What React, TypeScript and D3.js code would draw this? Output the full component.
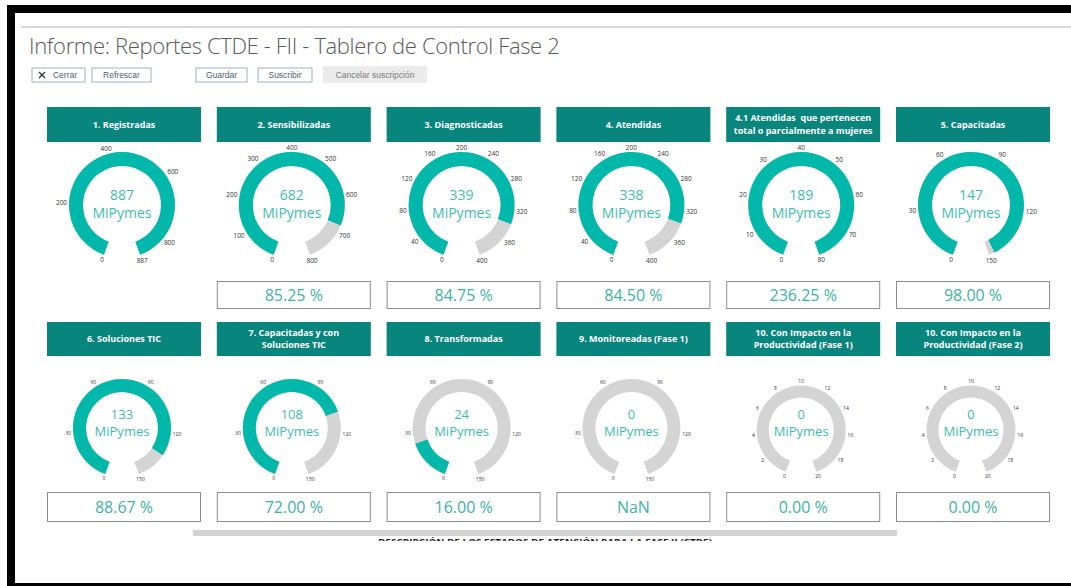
import React, { useEffect, useRef } from 'react';
import * as d3 from 'd3';

// gauge cards, left to right, top row then bottom row
const titles = [
    ['1. Registradas'],
    ['2. Sensibilizadas'],
    ['3. Diagnosticadas'],
    ['4. Atendidas'],
    ['4.1 Atendidas  que pertenecen', 'total o parcialmente a mujeres'],
    ['5. Capacitadas'],
    ['6. Soluciones TIC'],
    ['7. Capacitadas y con', 'Soluciones TIC'],
    ['8. Transformadas'],
    ['9. Monitoreadas (Fase 1)'],
    ['10. Con Impacto en la', 'Productividad (Fase 1)'],
    ['10. Con Impacto en la', 'Productividad (Fase 2)'],
];
const values = [887, 682, 339, 338, 189, 147, 133, 108, 24, 0, 0, 0];
const maxValues = [887, 800, 400, 400, 80, 150, 150, 150, 150, 150, 20, 20];
const gaugeTicks = [
    [0, 200, 400, 600, 800, 887],
    [0, 100, 200, 300, 400, 500, 600, 700, 800],
    [0, 40, 80, 120, 160, 200, 240, 280, 320, 360, 400],
    [0, 40, 80, 120, 160, 200, 240, 280, 320, 360, 400],
    [0, 10, 20, 30, 40, 50, 60, 70, 80],
    [0, 30, 60, 90, 120, 150],
    [0, 30, 60, 90, 120, 150],
    [0, 30, 60, 90, 120, 150],
    [0, 30, 60, 90, 120, 150],
    [0, 30, 60, 90, 120, 150],
    [0, 2, 4, 6, 8, 10, 12, 14, 16, 18, 20],
    [0, 2, 4, 6, 8, 10, 12, 14, 16, 18, 20],
];
const percentLabels = ['', '85.25 %', '84.75 %', '84.50 %', '236.25 %', '98.00 %',
    '88.67 %', '72.00 %', '16.00 %', 'NaN', '0.00 %', '0.00 %'];
const unitLabel = 'MiPymes';
const pageTitle = 'Informe: Reportes CTDE - FII - Tablero de Control Fase 2';
const buttonLabels = ['Cerrar', 'Refrescar', 'Guardar', 'Suscribir', 'Cancelar suscripción'];
const footerLabel = 'DESCRIPCIÓN DE LOS ESTADOS DE ATENCIÓN PARA LA FASE II (CTDE)';

const App = () => {
    const svgRef = useRef(null);

    useEffect(() => {
        const width = 1071;
        const height = 586;
        const teal = '#01b8aa';
        const headerFill = '#08857c';
        const grey = '#d4d4d4';
        const font = '"Open Sans", "Noto Sans", sans-serif';

        const svg = d3.select(svgRef.current);
        svg.selectAll('*').remove();
        svg.attr('width', width).attr('height', height);

        svg.append('rect').attr('width', width).attr('height', height).attr('fill', '#fff');

        // black frame of the screenshot
        svg.append('rect').attr('x', 7).attr('y', 5).attr('width', width - 7).attr('height', 8).attr('fill', '#000');
        svg.append('rect').attr('x', 7).attr('y', 5).attr('width', 8).attr('height', height - 5).attr('fill', '#000');
        svg.append('rect').attr('x', 7).attr('y', 583).attr('width', width - 7).attr('height', 3).attr('fill', '#000');
        svg.append('line')
            .attr('x1', 21).attr('x2', width).attr('y1', 27).attr('y2', 27)
            .attr('stroke', '#c6cbd1').attr('stroke-width', 1.5);

        //====== title + buttons
        svg.append('text')
            .attr('x', 29).attr('y', 54)
            .attr('font-family', font).attr('font-weight', 300)
            .attr('font-size', 22).attr('letter-spacing', -0.35).attr('fill', '#5a5a5a')
            .text(pageTitle);

        const btnX = [32, 92, 196, 258, 323];
        const btnW = [53, 59, 51, 54, 104];
        buttonLabels.forEach((label, i) => {
            const isCancel = i === 4;
            const g = svg.append('g').attr('transform', `translate(${btnX[i]},${isCancel ? 66 : 68})`);
            g.append('rect')
                .attr('width', btnW[i]).attr('height', isCancel ? 17 : 14)
                .attr('fill', isCancel ? '#ebebeb' : '#fff')
                .attr('stroke', isCancel ? 'none' : '#9fb0c2');
            let tx = btnW[i] / 2;
            if (i === 0) {
                g.append('path').attr('d', 'M7,4L13,10M13,4L7,10')
                    .attr('stroke', '#333').attr('stroke-width', 1.3);
                tx = 33;
            }
            g.append('text')
                .attr('x', tx).attr('y', isCancel ? 9 : 7.5)
                .attr('dy', '0.35em')
                .attr('text-anchor', 'middle')
                .attr('font-family', '"Liberation Sans", Arial, sans-serif')
                .attr('font-size', 8.5)
                .attr('fill', isCancel ? '#7a7a7a' : '#4d5d73')
                .text(label);
        });

        //====== gauge cards
        const colX = d3.scaleLinear().domain([0, 5]).range([47, 896]);
        const cardW = 154;
        const rows = [
            { headerY: 107, headerH: 35, cy: 205, rOut: 53, thick: 14, tickSize: 6.5, valueDy: -10, unitDy: 8, valueSize: 14, boxY: 281, boxH: 27 },
            { headerY: 322, headerH: 34, cy: 428, rOut: 49, thick: 13, tickSize: 5, valueDy: -14, unitDy: 3, valueSize: 13, boxY: 492, boxH: 29 },
        ];
        const half = (160 * Math.PI) / 180;

        titles.forEach((lines, i) => {
            const rowIdx = Math.floor(i / 6);
            const row = rows[rowIdx];
            const x0 = colX(i % 6);
            const cx = x0 + cardW / 2 - 2;
            const g = svg.append('g');

            g.append('rect')
                .attr('x', x0).attr('y', row.headerY)
                .attr('width', cardW).attr('height', row.headerH)
                .attr('fill', headerFill);
            lines.forEach((line, k) => {
                g.append('text')
                    .attr('x', x0 + cardW / 2)
                    .attr('y', row.headerY + row.headerH / 2 + (k - (lines.length - 1) / 2) * 12.5)
                    .attr('dy', '0.35em')
                    .attr('text-anchor', 'middle')
                    .attr('font-family', font).attr('font-weight', 700)
                    .attr('font-size', 9).attr('fill', '#fff')
                    .style('white-space', 'pre')
                    .text(line);
            });

            // bottom-row dials with a label at the very top get squeezed a little
            const squeeze = rowIdx === 1 && gaugeTicks[i].length > 6;
            const rOut = squeeze ? row.rOut - 4.5 : row.rOut;
            const rIn = rOut - (squeeze ? 12 : row.thick);
            const cy = squeeze ? row.cy + 2 : row.cy;

            const angle = d3.scaleLinear()
                .domain([0, maxValues[i]])
                .range([-half, half])
                .clamp(true);
            const arc = d3.arc().innerRadius(rIn).outerRadius(rOut);
            const gauge = g.append('g').attr('transform', `translate(${cx},${cy})`);

            gauge.append('path')
                .attr('d', arc({ startAngle: -half, endAngle: half }))
                .attr('fill', grey);
            if (values[i] > 0) {
                gauge.append('path')
                    .attr('d', arc({ startAngle: -half, endAngle: angle(values[i]) }))
                    .attr('fill', teal);
            }

            // labels sit just outside the ring, pushed out by their own size
            const fs = row.tickSize;
            const labelR = (d) => {
                const a = angle(d);
                const w = String(d).length * fs * 0.56;
                return rOut + 2 + (w / 2) * Math.abs(Math.sin(a)) + (fs * 0.75 / 2) * Math.abs(Math.cos(a));
            };
            gauge.selectAll('.tick')
                .data(gaugeTicks[i])
                .enter()
                .append('text')
                .attr('x', (d) => labelR(d) * Math.sin(angle(d)))
                .attr('y', (d) => -labelR(d) * Math.cos(angle(d)))
                .attr('dy', '0.35em')
                .attr('text-anchor', 'middle')
                .attr('font-family', font)
                .attr('font-size', fs)
                .attr('fill', '#333')
                .text((d) => d);

            gauge.append('text')
                .attr('y', row.valueDy - (cy - row.cy)).attr('dy', '0.35em')
                .attr('text-anchor', 'middle')
                .attr('font-family', font).attr('font-size', row.valueSize)
                .attr('fill', '#3dbdae')
                .text(values[i]);
            gauge.append('text')
                .attr('y', row.unitDy - (cy - row.cy)).attr('dy', '0.35em')
                .attr('text-anchor', 'middle')
                .attr('font-family', font).attr('font-size', row.valueSize)
                .attr('fill', '#3dbdae')
                .text(unitLabel);

            if (percentLabels[i]) {
                g.append('rect')
                    .attr('x', x0 + 0.5).attr('y', row.boxY + 0.5)
                    .attr('width', cardW - 1).attr('height', row.boxH)
                    .attr('fill', '#fff').attr('stroke', '#8c8c8c');
                g.append('text')
                    .attr('x', x0 + cardW / 2).attr('y', row.boxY + row.boxH / 2 + 1)
                    .attr('dy', '0.35em')
                    .attr('text-anchor', 'middle')
                    .attr('font-family', font).attr('font-size', 16)
                    .attr('fill', '#3db3a4')
                    .text(percentLabels[i]);
            }
        });

        //====== cut-off footer
        svg.append('rect').attr('x', 193).attr('y', 530).attr('width', 704).attr('height', 6).attr('fill', '#d2d2d2');
        svg.append('clipPath').attr('id', 'footer-clip')
            .append('rect').attr('x', 0).attr('y', 537).attr('width', width).attr('height', 4);
        svg.append('text')
            .attr('x', 545).attr('y', 545)
            .attr('text-anchor', 'middle')
            .attr('clip-path', 'url(#footer-clip)')
            .attr('font-family', font).attr('font-weight', 700)
            .attr('font-size', 9).attr('fill', '#222')
            .attr('textLength', 334).attr('lengthAdjust', 'spacingAndGlyphs')
            .text(footerLabel);
    }, []);

    return (
        <svg ref={svgRef} style={{ position: 'absolute', left: 0, top: 0 }}></svg>
    );
};

export default App;
